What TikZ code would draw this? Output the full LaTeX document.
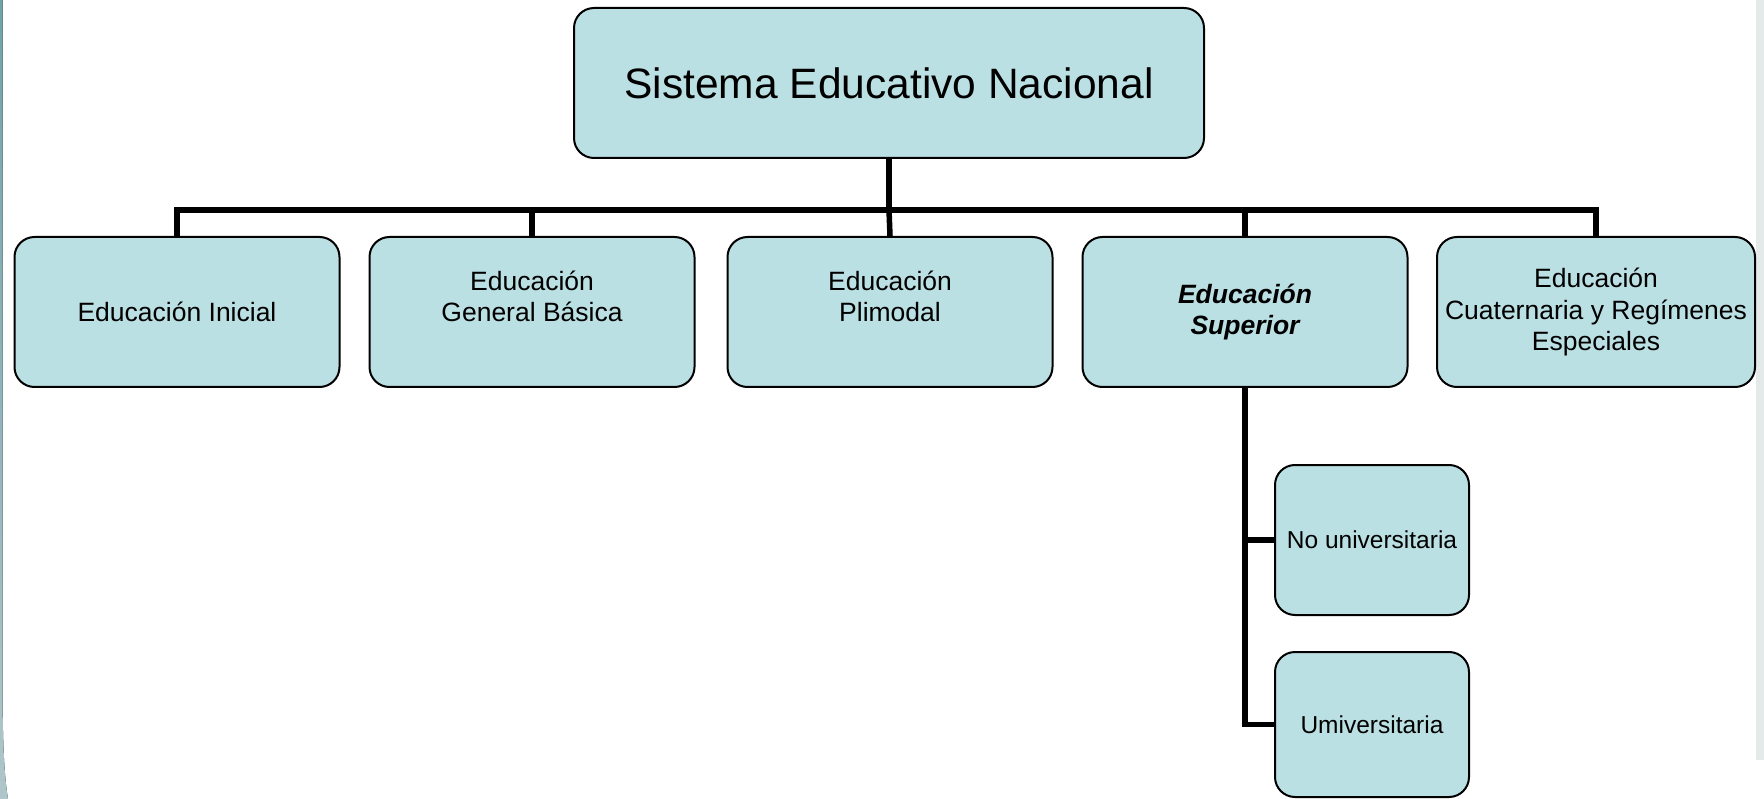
\documentclass[tikz,border=0pt]{standalone}
\usepackage{fontspec}
\setmainfont{Liberation Sans}
\definecolor{boxfill}{HTML}{BBE0E3}
\definecolor{leftband}{HTML}{6FA3A8}
\definecolor{leftbandlow}{HTML}{AFC6CA}
\definecolor{rightband}{HTML}{E4EAEA}
\tikzset{
  orgbox/.style={draw=black, line width=2pt, fill=boxfill, rounded corners=20pt,
    rectangle, inner sep=0pt, align=center, text=black},
  childbox/.style={orgbox, minimum width=325pt, minimum height=150pt,
    font=\fontsize{26.5}{31.5}\selectfont},
  subbox/.style={orgbox, minimum width=194pt,
    font=\fontsize{24.5}{29}\selectfont},
  conn/.style={draw=black, line width=5.5pt, line join=miter}
}
\begin{document}
\begin{tikzpicture}[x=1pt, y=-1pt]
\useasboundingbox (0,0) rectangle (1764,799);
% slide decorations
\fill[rightband] (1756,0) rectangle (1764,760);
\fill[top color=leftband, bottom color=leftbandlow] (0,0) -- (2.5,0) -- (2.5,680) .. controls (2.5,740) and (4,775) .. (8,799) -- (0,799) -- cycle;

% nodes
\node[orgbox, minimum width=630pt, minimum height=150pt, font=\fontsize{42.5}{50}\selectfont] (top) at (889,83) {Sistema Educativo Nacional};
\node[childbox] (c1) at (177,312) {Educación Inicial};
\node[childbox] (c2) at (532,312) {Educación\\General Básica\\\mbox{}};
\node[childbox] (c3) at (890,312) {Educación\\Plimodal\\\mbox{}};
\node[childbox] (c4) at (1245,312) {\bfseries\itshape Educación\\\bfseries\itshape Superior};
\node[childbox, minimum width=318pt] (c5) at (1596,312) {Educación\\Cuaternaria y Regímenes\\Especiales};
\node[subbox, minimum height=150pt] (sA) at (1372,540) {No universitaria};
\node[subbox, minimum height=145pt] (sB) at (1372,724.5) {Umiversitaria};

\coordinate (bar) at (889,210);

% connectors
\draw[conn] (top.south) -- (bar);
\draw[conn] (c1.north) |- (bar) -| (c5.north);
\draw[conn] (bar) -- (c3.north);
\draw[conn] (c2.north) -- (c2.north |- bar);
\draw[conn] (c4.north) -- (c4.north |- bar);
\draw[conn] (c4.south) |- (sB.west);
\draw[conn] (c4.south |- sA.west) -- (sA.west);
\end{tikzpicture}
\end{document}
